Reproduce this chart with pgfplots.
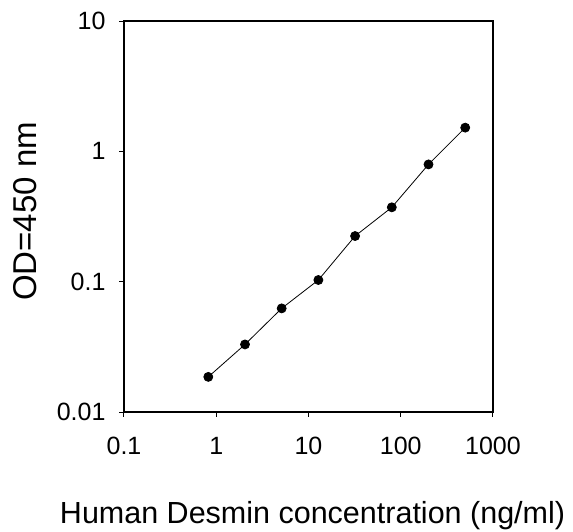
\documentclass[border=0pt]{standalone}
\usepackage{pgfplots}
\pgfplotsset{compat=1.18}
\usepackage{fontspec}
\setmainfont{Liberation Sans}
\begin{document}
\begin{tikzpicture}
\path[use as bounding box] (-124pt,-119pt) rectangle (449pt,412pt);
\begin{axis}[
    at={(0pt,0pt)}, anchor=south west,
    scale only axis,
    width=369pt, height=391pt,
    xmode=log, ymode=log,
    xmin=0.1, xmax=1000, ymin=0.01, ymax=10,
    xtick={0.1,1,10,100,1000},
    xticklabels={0.1,1,10,100,1000},
    ytick={0.01,0.1,1,10},
    yticklabels={0.01,0.1,1,10},
    xminorticks=false, yminorticks=false,
    tick align=outside,
    xtick pos=bottom, ytick pos=left,
    major tick length=5pt,
    every tick/.style={black, line width=1pt},
    axis line style={line width=1.4pt},
    tick label style={font=\fontsize{25}{28}\selectfont},
    xticklabel style={yshift=-17pt},
    yticklabel style={xshift=-10pt},
    /pgf/number format/assume math mode=true,
    xlabel={Human Desmin concentration (ng/ml)},
    ylabel={OD=450 nm},
    xlabel style={font=\fontsize{30.5}{34}\selectfont, at={(axis description cs:0.511,-0.284)}, anchor=base},
    ylabel style={font=\fontsize{33}{36}\selectfont, at={(axis description cs:-0.236,0.513)}, anchor=base},
]
\addplot[black, line width=0.8pt, mark=*, mark size=4.5pt, mark options={fill=black}]
coordinates {
    (0.82,0.0186)
    (2.05,0.033)
    (5.12,0.0624)
    (12.8,0.103)
    (32,0.224)
    (80,0.372)
    (200,0.794)
    (500,1.52)
};
\end{axis}
\end{tikzpicture}
\end{document}
